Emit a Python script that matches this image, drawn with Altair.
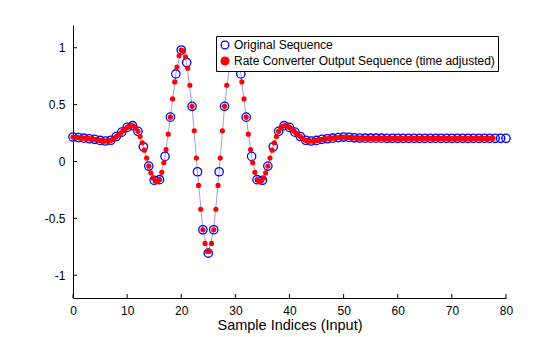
import altair as alt
import pandas as pd
import numpy as np

FONT = "Liberation Sans"

series_names = ["Original Sequence", "Rate Converter Output Sequence (time adjusted)"]
axis_title = "Sample Indices (Input)"

# original sequence, samples 0..80
orig_values = [
    0.215, 0.21, 0.205, 0.20, 0.195, 0.185, 0.18, 0.187, 0.22, 0.258,
    0.30, 0.315, 0.265, 0.13, -0.04, -0.165, -0.16, 0.045, 0.39, 0.77,
    0.98, 0.87, 0.485, -0.09, -0.60, -0.805, -0.60, -0.09, 0.485, 0.87,
    0.98, 0.77, 0.39, 0.045, -0.16, -0.165, -0.04, 0.13, 0.265, 0.315,
    0.30, 0.258, 0.22, 0.187, 0.18, 0.185, 0.195, 0.20, 0.205, 0.21,
    0.215, 0.212, 0.208, 0.206, 0.205, 0.205, 0.205, 0.205, 0.204, 0.204,
    0.204, 0.204, 0.204, 0.204, 0.204, 0.204, 0.204, 0.204, 0.204, 0.204,
    0.204, 0.204, 0.204, 0.204, 0.204, 0.204, 0.204, 0.204, 0.204, 0.204,
    0.204,
]

# rate converter output (time adjusted), one value every 0.4 input samples
rc_step = 0.4
rc_values = [
    0.215, 0.213, 0.211, 0.209, 0.207,
    0.205, 0.203, 0.201, 0.199, 0.197,
    0.195, 0.191, 0.187, 0.183, 0.181,
    0.180, 0.181, 0.184, 0.190, 0.203,
    0.220, 0.233, 0.248, 0.268, 0.285,
    0.300, 0.311, 0.316, 0.311, 0.295,
    0.265, 0.220, 0.165, 0.100, 0.030,
    -0.040, -0.100, -0.145, -0.172, -0.178,
    -0.160, -0.095, -0.010, 0.105, 0.240,
    0.390, 0.550, 0.700, 0.830, 0.930,
    0.980, 0.970, 0.920, 0.820, 0.670,
    0.485, 0.270, 0.030, -0.210, -0.420,
    -0.600, -0.720, -0.790, -0.790, -0.720,
    -0.600, -0.420, -0.210, 0.030, 0.270,
    0.485, 0.670, 0.820, 0.920, 0.970,
    0.980, 0.930, 0.830, 0.700, 0.550,
    0.390, 0.240, 0.105, -0.010, -0.095,
    -0.160, -0.178, -0.172, -0.145, -0.100,
    -0.040, 0.030, 0.100, 0.165, 0.220,
    0.265, 0.295, 0.311, 0.316, 0.311,
    0.300, 0.285, 0.268, 0.248, 0.233,
    0.220, 0.203, 0.190, 0.184, 0.181,
    0.180, 0.181, 0.183, 0.187, 0.191,
    0.195, 0.197, 0.199, 0.201, 0.203,
    0.205, 0.207, 0.209, 0.211, 0.213,
    0.215, 0.213, 0.211, 0.210, 0.209,
    0.208, 0.207, 0.206, 0.205, 0.205,
    0.204, 0.204, 0.204, 0.204, 0.204,
    0.204, 0.204, 0.204, 0.204, 0.204,
    0.204, 0.204, 0.204, 0.204, 0.204,
    0.204, 0.204, 0.204, 0.204, 0.204,
    0.204, 0.204, 0.204, 0.204, 0.204,
    0.204, 0.204, 0.204, 0.204, 0.204,
    0.204, 0.204, 0.204, 0.204, 0.204,
    0.204, 0.204, 0.204, 0.204, 0.204,
    0.204, 0.204, 0.204, 0.204, 0.204,
    0.204, 0.204, 0.204, 0.204, 0.204,
    0.204, 0.204, 0.204, 0.204, 0.204,
    0.204, 0.204, 0.204, 0.204, 0.204,
]

x_ticks = [0, 10, 20, 30, 40, 50, 60, 70, 80]
y_ticks = [-1, -0.5, 0, 0.5, 1]
x_domain = [0, 80]
y_domain = [-1.2, 1.2]

W, H = 433, 273

orig_df = pd.DataFrame({"n": np.arange(len(orig_values)), "v": orig_values,
                        "series": series_names[0]})
rc_df = pd.DataFrame({"n": np.arange(len(rc_values)) * rc_step, "v": rc_values,
                      "series": series_names[1]})

x_axis = alt.Axis(values=x_ticks, ticks=False, domainColor="black", domainWidth=1,
                  labelColor="black", labelFontSize=12, labelFont=FONT, labelPadding=7,
                  labelFlush=False, labelExpr="datum.value + ''",
                  title=axis_title, titleFont=FONT, titleFontSize=14.5,
                  titleFontWeight="normal", titleColor="black", titlePadding=2, grid=False)
y_axis = alt.Axis(values=y_ticks, ticks=False, domainColor="black", domainWidth=1,
                  labelColor="black", labelFontSize=12, labelFont=FONT, labelPadding=8,
                  labelFlush=False, labelExpr="datum.value + ''", title=None, grid=False)

xenc = alt.X("n:Q", scale=alt.Scale(domain=x_domain, nice=False, zero=False), axis=x_axis)
yenc = alt.Y("v:Q", scale=alt.Scale(domain=y_domain, nice=False, zero=False), axis=y_axis)

legend = alt.Legend(title=None, orient="none", legendX=143, legendY=11, direction="vertical",
                    strokeColor="black", fillColor="white", padding=3, rowPadding=2,
                    labelFont=FONT, labelFontSize=12, labelColor="black", labelOffset=3,
                    labelLimit=400, symbolType="circle", symbolSize=60, symbolStrokeWidth=1.3)

stroke_enc = alt.Stroke("series:N", scale=alt.Scale(domain=series_names, range=["#0000ff", "#ff0000"]),
                        legend=legend)
fill_enc = alt.Fill("series:N", scale=alt.Scale(domain=series_names, range=["transparent", "#ff0000"]),
                    legend=legend)

line = alt.Chart(orig_df).mark_line(color="#9d9df5", strokeWidth=1).encode(x=xenc, y=yenc)

orig_pts = alt.Chart(orig_df).mark_point(shape="circle", size=70, strokeWidth=1.3, opacity=1).encode(
    x=xenc, y=yenc, stroke=stroke_enc, fill=fill_enc)
rc_pts = alt.Chart(rc_df).mark_point(shape="circle", size=15, strokeWidth=1.3, opacity=1).encode(
    x=xenc, y=yenc, stroke=stroke_enc, fill=fill_enc)

xt = alt.Chart(pd.DataFrame({"n": x_ticks})).mark_rule(color="black", strokeWidth=1).encode(
    x=xenc, y=alt.value(H), y2=alt.value(H - 4))
yt = alt.Chart(pd.DataFrame({"v": y_ticks})).mark_rule(color="black", strokeWidth=1).encode(
    y=yenc, x=alt.value(0), x2=alt.value(4))

chart = alt.layer(line, orig_pts, rc_pts, xt, yt).properties(
    width=W, height=H,
    autosize=alt.AutoSizeParams(type="none"),
    padding={"left": 73, "top": 25, "right": 560 - 73 - W, "bottom": 337 - 25 - H},
    background="white",
).configure_view(strokeWidth=0)

chart.save("out.html", embed_options={"renderer": "svg", "actions": False})
